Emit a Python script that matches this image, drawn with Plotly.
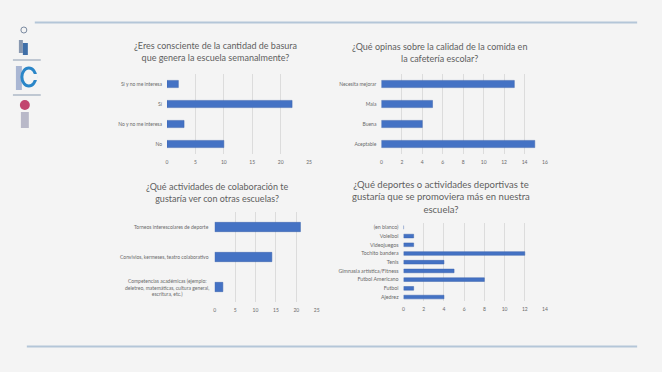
import plotly.graph_objects as go

W, H = 662, 372

# ---- data ----
q1_title = "¿Eres consciente de la cantidad de basura<br>que genera la escuela semanalmente?"
q1_cats = ["Sí y no me interesa", "Sí", "No y no me interesa", "No"]
q1_vals = [2, 22, 3, 10]
q1_ticks = [0, 5, 10, 15, 20, 25]

q2_title = "¿Qué opinas sobre la calidad de la comida en<br>la cafetería escolar?"
q2_cats = ["Necesita mejorar", "Mala", "Buena", "Aceptable"]
q2_vals = [13, 5, 4, 15]
q2_ticks = [0, 2, 4, 6, 8, 10, 12, 14, 16]

q3_title = "¿Qué actividades de colaboración te<br>gustaría ver con otras escuelas?"
q3_cats = ["Torneos interescolares de deporte",
           "Convivios, kermeses, teatro colaborativo",
           "Competencias académicas (ejemplo:<br>deletreo, matemáticas, cultura general,<br>escritura, etc.)"]
q3_vals = [21, 14, 2]
q3_ticks = [0, 5, 10, 15, 20, 25]

q4_title = "¿Qué deportes o actividades deportivas te<br>gustaría que se promoviera más en nuestra<br>escuela?"
q4_cats = ["(en blanco)", "Voleibol", "Videojuegos", "Tochito bandera", "Tenis",
           "Gimnasia artística/Fitness", "Futbol Americano", "Futbol", "Ajedrez"]
q4_vals = [0, 1, 1, 12, 4, 5, 8, 1, 4]
q4_ticks = [0, 2, 4, 6, 8, 10, 12, 14]

BAR = "#4472c4"
TXT = "#6a6a6a"
TTL = "#5f5f5f"
GRID = "#dcdcdc"
BG = "#f4f4f4"
FONT = "Lato, Open Sans, sans-serif"


def fx(x):
    return x / W


def fy(y):
    return 1 - y / H


charts = [
    (q1_cats, q1_vals, q1_ticks, 167, 310, 74, 154, 0.36, q1_title),
    (q2_cats, q2_vals, q2_ticks, 382.7, 547.3, 74, 154, 0.36, q2_title),
    (q3_cats, q3_vals, q3_ticks, 215, 317.7, 212, 302, 0.31, q3_title),
    (q4_cats, q4_vals, q4_ticks, 405, 547.3, 223, 301.4, 0.42, q4_title),
]
title_pos = [(216, 52), (441, 53), (217, 192), (443, 197)]

fig = go.Figure()
layout = dict(
    width=W, height=H,
    margin=dict(l=0, r=0, t=0, b=0),
    paper_bgcolor=BG, plot_bgcolor=BG,
    showlegend=False,
    font=dict(family=FONT, color=TXT),
)
annotations = []
for i, (cats, vals, ticks, x0, x1, yt, yb, bw, title) in enumerate(charts):
    n = "" if i == 0 else str(i + 1)
    fig.add_trace(go.Bar(
        x=vals, y=cats, orientation="h",
        marker=dict(color=BAR, line=dict(color="#3a62ad", width=0.5)),
        width=bw, xaxis="x" + n, yaxis="y" + n,
        hoverinfo="x+y",
    ))
    layout["xaxis" + n] = dict(
        domain=[fx(x0), fx(x1)], anchor="y" + n,
        range=[ticks[0], ticks[-1]], tickvals=ticks,
        showgrid=True, gridcolor=GRID, gridwidth=1,
        zeroline=False, showline=False, ticks="",
        tickfont=dict(size=5, color=TXT), ticklabelstandoff=4,
        fixedrange=True,
    )
    layout["yaxis" + n] = dict(
        domain=[fy(yb), fy(yt)], anchor="x" + n,
        autorange="reversed", showgrid=False, zeroline=False,
        showline=False, ticks="",
        showticklabels=(i != 2),
        tickfont=dict(size=5 if i != 3 else 5.3, color=TXT),
        ticklabelstandoff=4, fixedrange=True,
    )
    if i == 2:
        # centred multi-line category labels
        for c in cats:
            annotations.append(dict(
                text=c, x=fx(x0 - 4), y=c, xref="paper", yref="y" + n,
                xanchor="right", yanchor="middle", showarrow=False,
                align="center", font=dict(size=5, color=TXT, family=FONT),
            ))
    tx, ty = title_pos[i]
    annotations.append(dict(
        text=title, x=fx(tx), y=fy(ty), xref="paper", yref="paper",
        xanchor="center", yanchor="middle", showarrow=False,
        font=dict(size=9 if i != 3 else 9.5, color=TTL, family=FONT),
        align="center",
    ))

shapes = [
    dict(type="line", xref="paper", yref="paper", x0=fx(34), x1=fx(640), y0=fy(22.5), y1=fy(22.5),
         line=dict(color="#b4c6d8", width=2)),
    dict(type="line", xref="paper", yref="paper", x0=fx(26), x1=fx(640), y0=fy(346.5), y1=fy(346.5),
         line=dict(color="#b4c6d8", width=2)),
    dict(type="line", xref="paper", yref="paper", x0=fx(12), x1=fx(40), y0=fy(60), y1=fy(60),
         line=dict(color="#8a9bb0", width=1)),
    dict(type="line", xref="paper", yref="paper", x0=fx(12), x1=fx(40), y0=fy(95), y1=fy(95),
         line=dict(color="#8a9bb0", width=1)),
    dict(type="circle", xref="paper", yref="paper", x0=fx(20), x1=fx(26), y0=fy(33), y1=fy(27),
         line=dict(color="#7a8aa0", width=1), fillcolor="rgba(0,0,0,0)"),
    dict(type="rect", xref="paper", yref="paper", x0=fx(18), x1=fx(22), y0=fy(53), y1=fy(40),
         line=dict(width=0), fillcolor="#8898b0"),
    dict(type="rect", xref="paper", yref="paper", x0=fx(22), x1=fx(27), y0=fy(55), y1=fy(43),
         line=dict(width=0), fillcolor="#3f6fa8"),
    dict(type="rect", xref="paper", yref="paper", x0=fx(15), x1=fx(21), y0=fy(90), y1=fy(66),
         line=dict(width=0), fillcolor="#a9b6d3"),
    dict(type="circle", xref="paper", yref="paper", x0=fx(21), x1=fx(35), y0=fy(86), y1=fy(68),
         line=dict(color="#2a86c8", width=3), fillcolor="rgba(0,0,0,0)"),
    dict(type="rect", xref="paper", yref="paper", x0=fx(30), x1=fx(37), y0=fy(80), y1=fy(74),
         line=dict(width=0), fillcolor=BG),
    dict(type="circle", xref="paper", yref="paper", x0=fx(19), x1=fx(29), y0=fy(110), y1=fy(100),
         line=dict(width=0), fillcolor="#c2456f"),
    dict(type="rect", xref="paper", yref="paper", x0=fx(20), x1=fx(28), y0=fy(128), y1=fy(112),
         line=dict(width=0), fillcolor="#b8b8c8"),
]
layout["annotations"] = annotations
layout["shapes"] = shapes
fig.update_layout(**layout)
fig.write_html("out.html", config={"displayModeBar": False},
               post_script="document.body.style.margin='0';document.body.style.background='" + BG + "';")
